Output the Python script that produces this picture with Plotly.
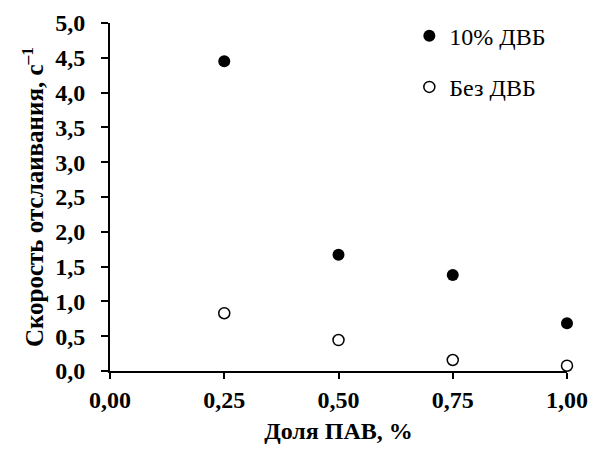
import plotly.graph_objects as go

x_vals = [0.25, 0.50, 0.75, 1.00]
with_dvb = [4.45, 1.67, 1.38, 0.685]
without_dvb = [0.83, 0.445, 0.158, 0.076]
name_with = "10% ДВБ"
name_without = "Без ДВБ"
x_ticks = [0, 0.25, 0.5, 0.75, 1.0]
y_ticks = [0, 0.5, 1, 1.5, 2, 2.5, 3, 3.5, 4, 4.5, 5]

serif = "Liberation Serif"

fig = go.Figure()
fig.add_trace(go.Scatter(x=x_vals, y=with_dvb, mode="markers", name=name_with,
                         legendgroup="a",
                         marker=dict(symbol="circle", size=12, color="black",
                                     line=dict(width=0))))
fig.add_trace(go.Scatter(x=x_vals, y=without_dvb, mode="markers", name=name_without,
                         legendgroup="b",
                         marker=dict(symbol="circle-open", size=11, color="black",
                                     line=dict(width=1.5, color="black"))))

axis_common = dict(showgrid=False, zeroline=False, automargin=False,
                   showline=True, linecolor="black", linewidth=2,
                   ticks="outside", tickwidth=2, tickcolor="black",
                   tickfont=dict(family=serif, size=24, color="black", weight="bold"))

fig.update_layout(
    width=592, height=450,
    margin=dict(l=110, r=25, t=23, b=79),
    paper_bgcolor="white", plot_bgcolor="white",
    separators=", ",
    font=dict(family=serif, color="black"),
    legend=dict(x=0.655, y=1.027, xanchor="left", yanchor="top",
                font=dict(family=serif, size=24, color="black"),
                traceorder="grouped", tracegroupgap=17,
                bgcolor="rgba(0,0,0,0)"),
    xaxis=dict(range=[0, 1.0], tickvals=x_ticks, tickformat=".2f", ticklen=6,
               title=dict(text="<b>Доля ПАВ, %</b>", standoff=10,
                          font=dict(family=serif, size=24, color="black")),
               **axis_common),
    yaxis=dict(range=[0, 5.0], tickvals=y_ticks, tickformat=".1f", ticklen=7,
               ticklabelposition="outside", ticklabelstandoff=11,
               title=dict(text="<b>Скорость отслаивания, с<sup>–1</sup></b>", standoff=4,
                          font=dict(family=serif, size=25, color="black")),
               **axis_common),
)
fig.update_traces(cliponaxis=False)

fig.write_html("out.html")
